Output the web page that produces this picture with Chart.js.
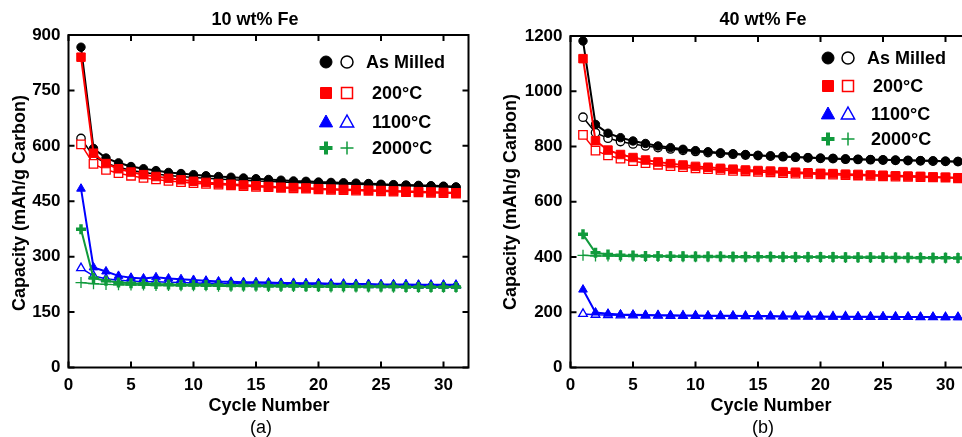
<!DOCTYPE html>
<html>
<head>
<meta charset="utf-8">
<script src="https://cdn.jsdelivr.net/npm/chart.js@4.4.1/dist/chart.umd.min.js"></script>
<style>
  html, body { margin: 0; padding: 0; background: #fff; }
  body { width: 962px; height: 437px; overflow: hidden; position: relative; }
  canvas { position: absolute; top: 0; }
  #chartA { left: 0; }
  #chartB { left: 480px; }
</style>
</head>
<body>
<canvas id="chartA" width="480" height="437"></canvas>
<canvas id="chartB" width="502" height="437"></canvas>
<script>
'use strict';

/* Cycle numbers and tick labels */
var cycles = [];
for (var c = 1; c <= 31; c++) cycles.push(c);
var xTicks  = [0, 5, 10, 15, 20, 25, 30];
var yTicksA = [0, 150, 300, 450, 600, 750, 900];
var yTicksB = [0, 200, 400, 600, 800, 1000, 1200];

var legendLabels = ['As Milled', '200°C', '1100°C', '2000°C'];

/* (a) 10 wt% Fe — capacity, mAh/g carbon */
var amFilledA  = [867, 593, 567, 554, 544, 538, 533, 528, 525, 522, 519, 517, 515, 513, 511, 509, 507, 505, 504, 502, 501, 500, 499, 498, 496, 495, 494, 493, 492, 491, 489];
var amOpenA    = [620, 572, 553, 542, 534, 528, 524, 520, 517, 514, 512, 510, 508, 507, 505, 504, 502, 501, 500, 499, 498, 497, 496, 495, 494, 493, 492, 491, 490, 489, 487];
var h200FilledA = [840, 580, 552, 538, 529, 522, 517, 512, 508, 504, 501, 498, 496, 494, 492, 490, 488, 487, 486, 484, 483, 482, 481, 480, 479, 478, 477, 476, 475, 474, 473];
var h200OpenA   = [604, 551, 535, 526, 519, 513, 509, 505, 502, 499, 497, 495, 493, 491, 489, 488, 486, 485, 484, 482, 481, 480, 479, 478, 477, 476, 475, 474, 473, 472, 471];
var h1100FilledA = [484, 271, 260, 248, 243, 241, 244, 241, 239, 237, 235, 233, 232, 231, 231, 230, 229, 229, 228, 228, 227, 227, 226, 226, 225, 225, 225, 224, 224, 224, 224];
var h1100OpenA   = [269, 248, 240, 236, 234, 232, 232, 231, 230, 229, 228, 228, 227, 227, 226, 226, 226, 225, 225, 225, 224, 224, 224, 223, 223, 223, 223, 222, 222, 222, 222];
var h2000FilledA = [374, 242, 235, 230, 228, 227, 226, 225, 224, 224, 223, 223, 222, 222, 222, 221, 221, 221, 220, 220, 220, 220, 219, 219, 219, 219, 218, 218, 218, 218, 218];
var h2000OpenA   = [230, 227, 225, 224, 223, 223, 222, 222, 221, 221, 221, 220, 220, 220, 220, 219, 219, 219, 219, 219, 218, 218, 218, 218, 218, 217, 217, 217, 217, 217, 217];

/* (b) 40 wt% Fe */
var amFilledB  = [1182, 880, 848, 832, 820, 811, 802, 796, 790, 785, 781, 777, 774, 771, 768, 766, 764, 762, 760, 758, 757, 755, 754, 753, 752, 751, 750, 749, 748, 747, 746];
var amOpenB    = [906, 850, 830, 818, 809, 802, 796, 791, 786, 782, 778, 775, 772, 769, 767, 765, 763, 761, 759, 757, 756, 754, 753, 752, 751, 750, 749, 748, 747, 746, 745];
var h200FilledB = [1118, 821, 787, 771, 760, 751, 744, 738, 733, 728, 725, 721, 718, 715, 713, 711, 709, 707, 705, 703, 702, 700, 699, 697, 696, 694, 693, 692, 690, 689, 687];
var h200OpenB   = [842, 785, 768, 756, 747, 740, 734, 729, 725, 721, 718, 715, 712, 710, 708, 706, 704, 702, 701, 699, 698, 696, 695, 694, 692, 691, 690, 689, 688, 687, 685];
var h1100FilledB = [282, 199, 195, 192, 191, 190, 189, 189, 188, 188, 187, 187, 187, 186, 186, 186, 185, 185, 185, 185, 184, 184, 184, 184, 184, 183, 183, 183, 183, 182, 182];
var h1100OpenB   = [194, 191, 190, 189, 189, 188, 188, 187, 187, 187, 186, 186, 186, 186, 185, 185, 185, 185, 184, 184, 184, 184, 183, 183, 183, 183, 183, 182, 182, 182, 182];
var h2000FilledB = [482, 415, 409, 406, 405, 404, 404, 403, 403, 402, 402, 402, 401, 401, 401, 401, 400, 400, 400, 400, 400, 399, 399, 399, 399, 398, 398, 397, 397, 397, 396];
var h2000OpenB   = [406, 404, 404, 403, 403, 402, 402, 402, 401, 401, 401, 401, 400, 400, 400, 400, 400, 399, 399, 399, 399, 398, 398, 398, 398, 397, 397, 397, 396, 396, 396];

var FONT = "'Liberation Sans', Arial, sans-serif";
var BLACK = '#000000', RED = '#ff0000', BLUE = '#0000ff', GREEN = '#109a3c';

/* marker style per series: [colour, pointStyle, radius] */
var styles = [
    [BLACK, 'circle',   4.2],
    [RED,   'rect',     6],
    [BLUE,  'triangle', 5],
    [GREEN, 'cross',    5]
];

function filledSet(data, s) {
    var cross = s[1] === 'cross';
    return {
        data: data.map(function (v, i) { return { x: cycles[i], y: v }; }),
        borderColor: s[0], backgroundColor: s[0], borderWidth: 2,
        pointStyle: s[1], pointRadius: s[2],
        pointBackgroundColor: s[0], pointBorderColor: s[0],
        pointBorderWidth: cross ? 3.5 : 1
    };
}
function openSet(data, s) {
    var cross = s[1] === 'cross';
    return {
        data: data.map(function (v, i) { return { x: cycles[i], y: v }; }),
        borderColor: s[0], backgroundColor: '#fff', borderWidth: 1.5,
        pointStyle: s[1], pointRadius: cross ? 5.5 : s[2],
        pointBackgroundColor: '#fff', pointBorderColor: s[0],
        pointBorderWidth: 1.3
    };
}

/* small marker drawer for the legend */
function marker(ctx, style, x, y, r, filled) {
    var col = style[0];
    ctx.save();
    ctx.fillStyle = filled ? col : '#fff';
    ctx.strokeStyle = col;
    ctx.lineWidth = filled ? 1 : 1.5;
    ctx.beginPath();
    if (style[1] === 'circle') {
        ctx.arc(x, y, r, 0, Math.PI * 2);
        ctx.fill(); ctx.stroke();
    } else if (style[1] === 'rect') {
        ctx.rect(x - r, y - r, 2 * r, 2 * r);
        ctx.fill(); ctx.stroke();
    } else if (style[1] === 'triangle') {
        ctx.moveTo(x, y - r);
        ctx.lineTo(x + r * 0.95, y + r * 0.7);
        ctx.lineTo(x - r * 0.95, y + r * 0.7);
        ctx.closePath();
        ctx.fill(); ctx.stroke();
    } else {
        ctx.lineWidth = filled ? 4 : 1.5;
        ctx.moveTo(x - r, y); ctx.lineTo(x + r, y);
        ctx.moveTo(x, y - r); ctx.lineTo(x, y + r);
        ctx.stroke();
    }
    ctx.restore();
}

/* frame with inward ticks on all four sides, legend and text labels */
var decor = {
    id: 'decor',
    afterDraw: function (chart) {
        var o = chart.options.plugins.decor;
        var ctx = chart.ctx, a = chart.chartArea;
        var xs = chart.scales.x, ys = chart.scales.y;
        ctx.save();
        ctx.strokeStyle = '#000';
        ctx.lineWidth = 2;
        ctx.strokeRect(a.left, a.top, a.right - a.left, a.bottom - a.top);
        ctx.beginPath();
        xs.ticks.forEach(function (t, i) {
            var px = xs.getPixelForTick(i);
            ctx.moveTo(px, a.bottom); ctx.lineTo(px, a.bottom - 6);
            ctx.moveTo(px, a.top);    ctx.lineTo(px, a.top + 6);
        });
        ys.ticks.forEach(function (t, i) {
            var py = ys.getPixelForTick(i);
            ctx.moveTo(a.left, py);  ctx.lineTo(a.left + 6, py);
            ctx.moveTo(a.right, py); ctx.lineTo(a.right - 6, py);
        });
        ctx.stroke();

        // legend
        var lg = o.legend;
        ctx.fillStyle = '#000';
        ctx.font = 'bold 18px ' + FONT;
        ctx.textBaseline = 'middle';
        ctx.textAlign = 'left';
        legendLabels.forEach(function (lab, i) {
            var y = lg.rows[i], s = styles[i];
            var r = s[1] === 'circle' ? 6 : s[1] === 'rect' ? 5.5 : s[1] === 'triangle' ? 7 : 6.5;
            marker(ctx, s, lg.filledX, y, r, true);
            marker(ctx, s, lg.openX, y, r, false);
            ctx.fillStyle = '#000';
            ctx.fillText(lab, lg.textX[i], y + 1);
        });

        // titles
        ctx.textAlign = 'center';
        ctx.font = 'bold 18px ' + FONT;
        ctx.fillText(o.title, o.titleX, 20);
        ctx.fillText('Cycle Number', o.xTitleX, 406);
        ctx.font = '18px ' + FONT;
        ctx.fillText(o.panel, o.panelX, 428);
        ctx.save();
        ctx.translate(o.yTitleX, o.yTitleY);
        ctx.rotate(-Math.PI / 2);
        ctx.font = 'bold 18px ' + FONT;
        ctx.fillText('Capacity (mAh/g Carbon)', 0, 0);
        ctx.restore();
        ctx.restore();
    }
};

function makeChart(id, sets, yTicks, yMax, pad, yWidth, deco) {
    var tickFont = { family: FONT, size: 17, weight: 'bold' };
    var plain = function (v) { return String(v); };
    return new Chart(document.getElementById(id).getContext('2d'), {
        type: 'line',
        data: { datasets: sets },
        options: {
            responsive: false,
            animation: false,
            devicePixelRatio: 1,
            layout: { padding: pad },
            elements: { line: { tension: 0 } },
            plugins: { legend: { display: false }, tooltip: { enabled: false }, decor: deco },
            scales: {
                x: {
                    type: 'linear', min: 0, max: 32,
                    grid: { display: false, drawTicks: false },
                    border: { display: false },
                    afterBuildTicks: function (s) { s.ticks = xTicks.map(function (v) { return { value: v }; }); },
                    afterFit: function (s) { s.height = 30; },
                    ticks: { color: '#000', font: tickFont, padding: 8, maxRotation: 0, autoSkip: false, callback: plain }
                },
                y: {
                    min: 0, max: yMax,
                    grid: { display: false, drawTicks: false },
                    border: { display: false },
                    afterBuildTicks: function (s) { s.ticks = yTicks.map(function (v) { return { value: v }; }); },
                    afterFit: function (s) { s.width = yWidth; },
                    ticks: { color: '#000', font: tickFont, padding: 8, autoSkip: false, callback: plain }
                }
            }
        },
        plugins: [decor]
    });
}

makeChart('chartA', [
    filledSet(h2000FilledA, styles[3]), openSet(h2000OpenA, styles[3]),
    filledSet(h1100FilledA, styles[2]), openSet(h1100OpenA, styles[2]),
    filledSet(h200FilledA, styles[1]),  openSet(h200OpenA, styles[1]),
    filledSet(amFilledA, styles[0]),    openSet(amOpenA, styles[0])
], yTicksA, 900, { left: 0, top: 35, right: 11.5, bottom: 39.5 }, 68.5, {
    title: '10 wt% Fe', titleX: 255, xTitleX: 269, panel: '(a)', panelX: 261,
    yTitleX: 20, yTitleY: 203,
    legend: { rows: [62, 93, 122, 148], filledX: 326, openX: 347, textX: [366, 372, 372, 372] }
});

makeChart('chartB', [
    filledSet(h2000FilledB, styles[3]), openSet(h2000OpenB, styles[3]),
    filledSet(h1100FilledB, styles[2]), openSet(h1100OpenB, styles[2]),
    filledSet(h200FilledB, styles[1]),  openSet(h200OpenB, styles[1]),
    filledSet(amFilledB, styles[0]),    openSet(amOpenB, styles[0])
], yTicksB, 1200, { left: 0, top: 36, right: 11.5, bottom: 39.5 }, 90.5, {
    title: '40 wt% Fe', titleX: 283, xTitleX: 291, panel: '(b)', panelX: 283,
    yTitleX: 31, yTitleY: 202,
    legend: { rows: [58, 86, 114, 139], filledX: 348, openX: 368, textX: [387, 393, 391, 391] }
});
</script>
</body>
</html>
